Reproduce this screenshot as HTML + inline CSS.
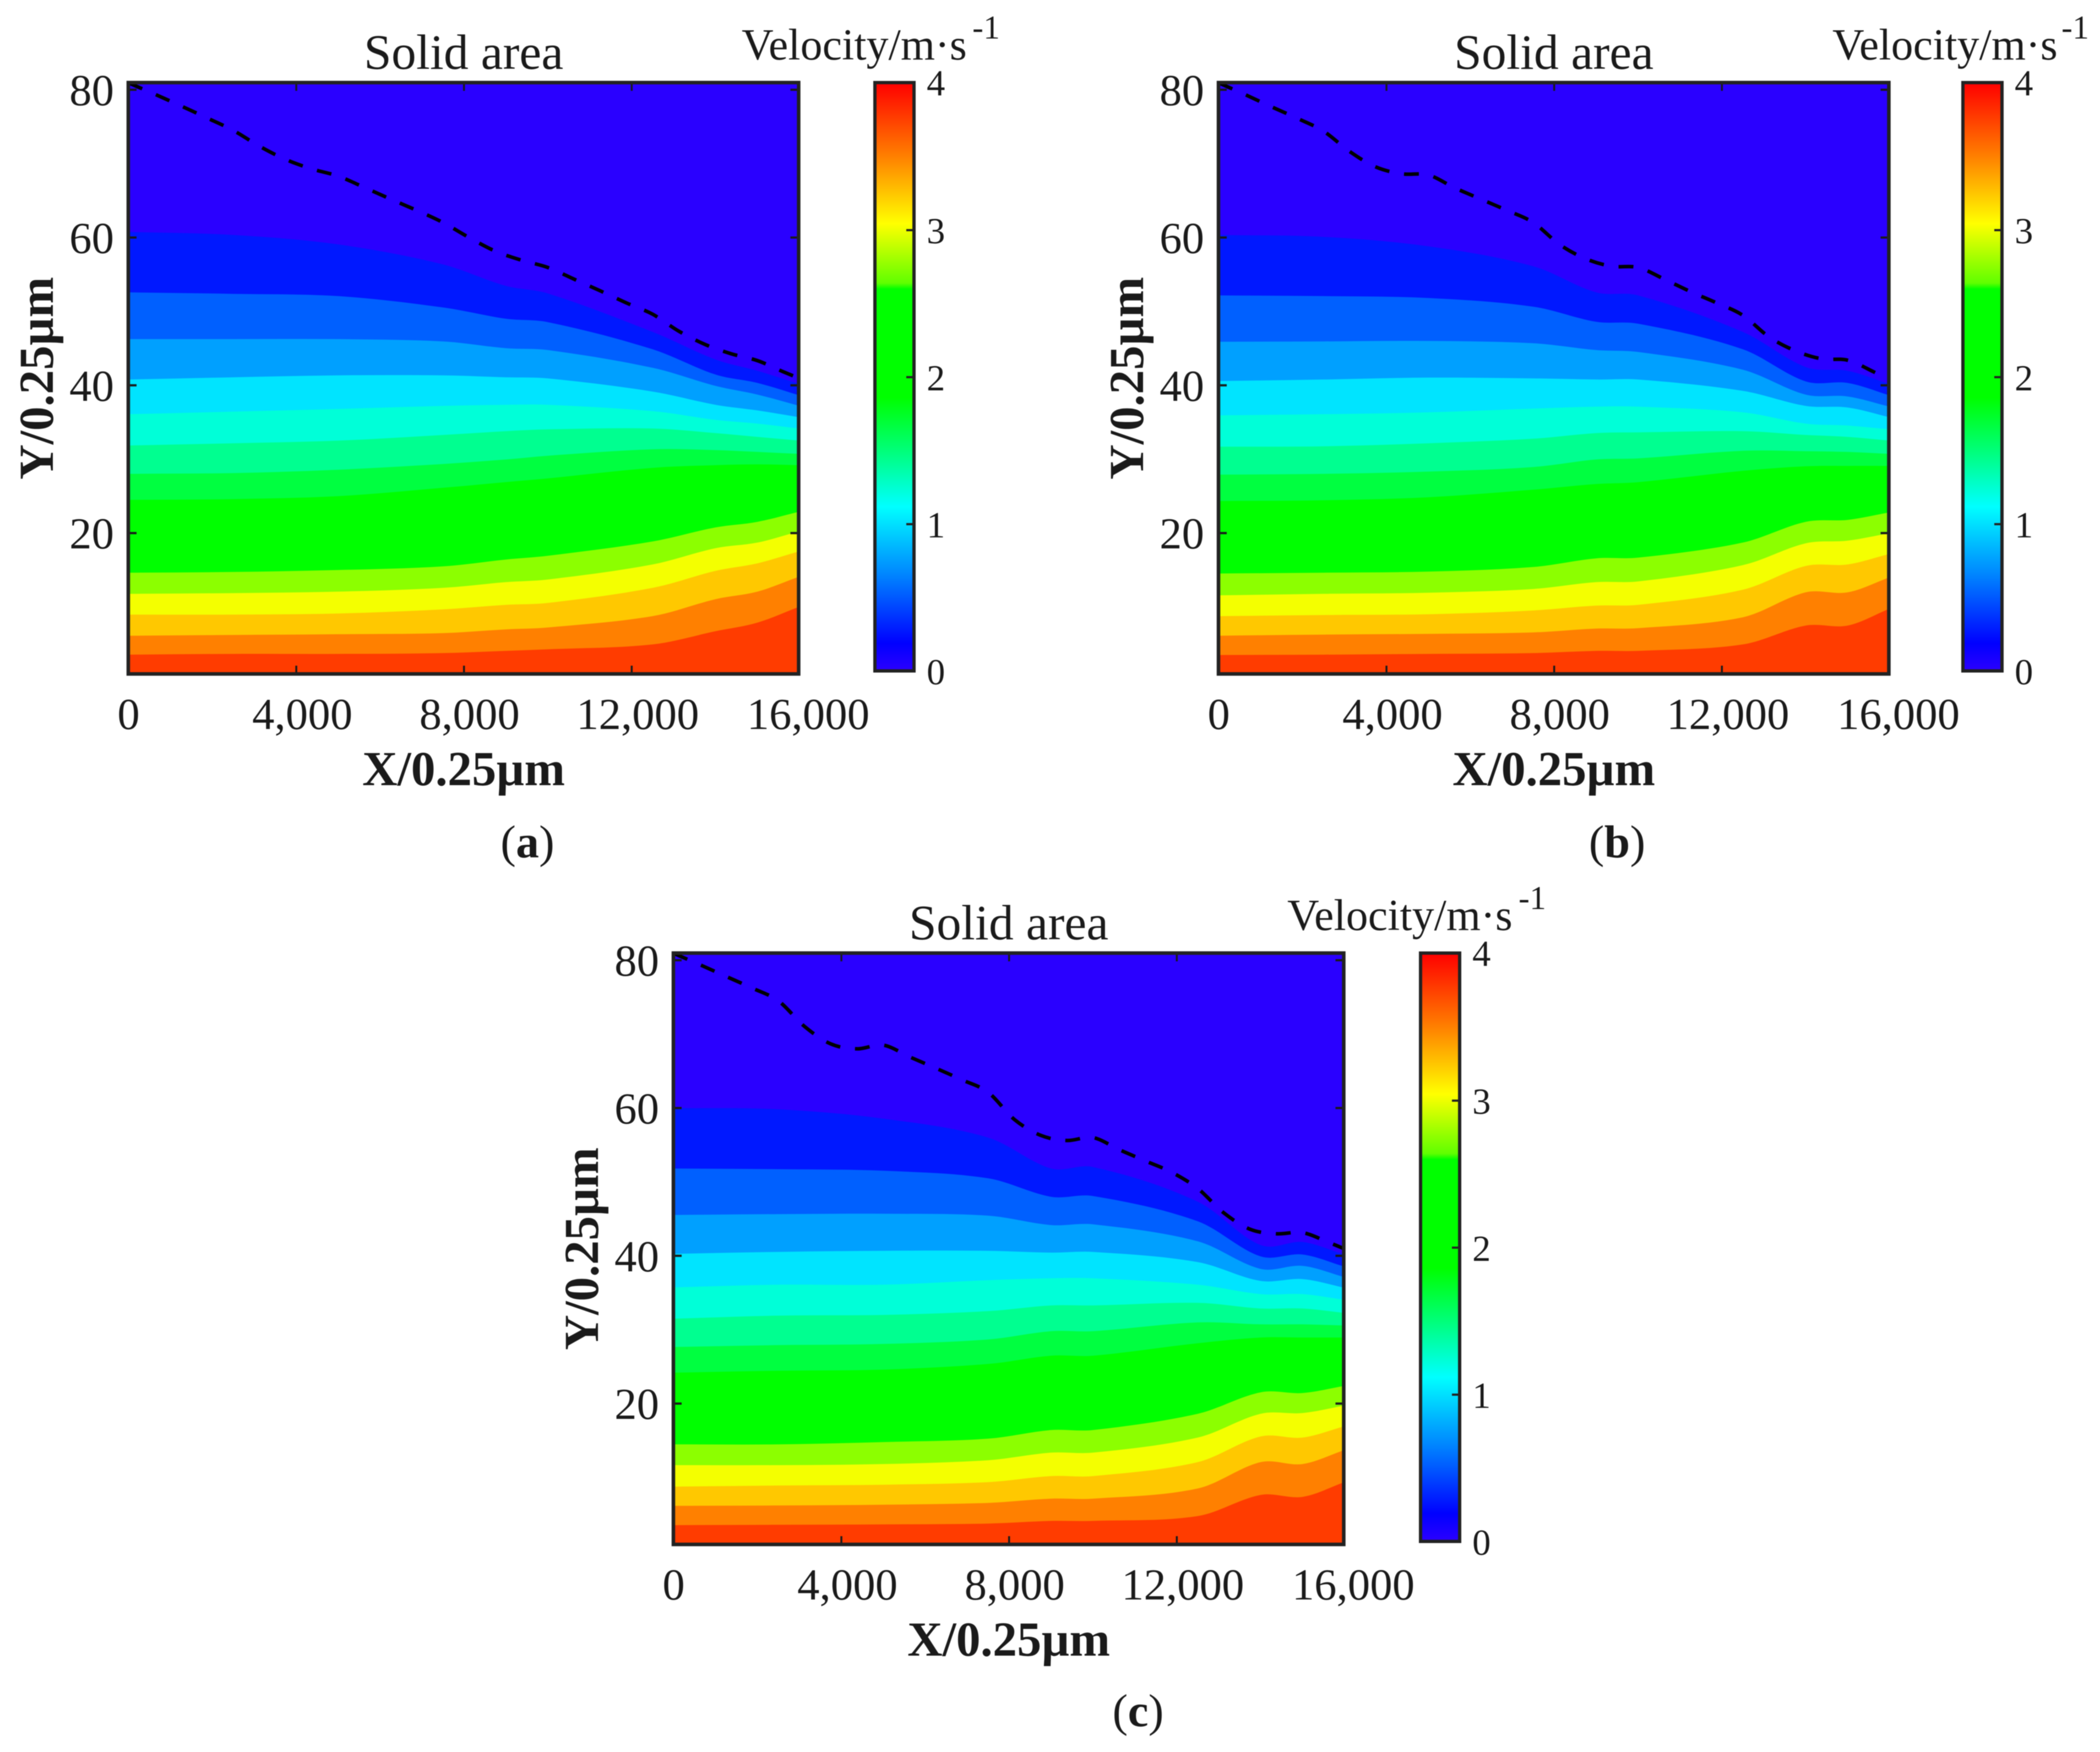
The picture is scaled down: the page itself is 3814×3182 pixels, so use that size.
<!DOCTYPE html>
<html lang="en">
<head>
<meta charset="utf-8">
<title>Velocity contour panels</title>
<style>
html,body{margin:0;padding:0;background:#fff;}
body{width:3814px;height:3182px;overflow:hidden;}
svg{display:block;filter:blur(0.9px);}
text{font-family:"Liberation Serif","Times New Roman",serif;fill:#1a1a1a;}
.tick{font-size:81px;}
.cbt{font-size:67px;}
.ttl{font-size:90px;}
.vel{font-size:80px;}
.sup{font-size:60px;}
.ax{font-size:88.5px;font-weight:bold;}
.cap{font-size:84px;}
.cap tspan{font-weight:bold;}
</style>
</head>
<body>
<svg id="figure" xmlns="http://www.w3.org/2000/svg" width="3814" height="3182" viewBox="0 0 3814 3182">
  <defs id="figure-defs"></defs>
  <rect width="3814" height="3182" fill="#fff"/>

  <g id="panel-a">
    <text class="ttl" x="842" y="125" text-anchor="middle">Solid area</text>
    <text class="vel" x="1347" y="108">Velocity/m·s</text>
    <text class="sup" x="1766" y="70">-1</text>
    <text class="ax" x="842" y="1426" text-anchor="middle">X/0.25µm</text>
    <text class="ax" transform="translate(96 687) rotate(-90)" text-anchor="middle">Y/0.25µm</text>
  </g>

  <g id="panel-b">
    <text class="ttl" x="2822" y="125" text-anchor="middle">Solid area</text>
    <text class="vel" x="3328" y="108">Velocity/m·s</text>
    <text class="sup" x="3744" y="70">-1</text>
    <text class="ax" x="2822" y="1426" text-anchor="middle">X/0.25µm</text>
    <text class="ax" transform="translate(2076 687) rotate(-90)" text-anchor="middle">Y/0.25µm</text>
  </g>

  <g id="panel-c">
    <text class="ttl" x="1832" y="1706" text-anchor="middle">Solid area</text>
    <text class="vel" x="2338" y="1689">Velocity/m·s</text>
    <text class="sup" x="2758" y="1651">-1</text>
    <text class="ax" x="1832" y="3007" text-anchor="middle">X/0.25µm</text>
    <text class="ax" transform="translate(1086 2268) rotate(-90)" text-anchor="middle">Y/0.25µm</text>
  </g>

  <text class="cap" x="958" y="1557" text-anchor="middle">(<tspan>a</tspan>)</text>
  <text class="cap" x="2937" y="1557" text-anchor="middle">(<tspan>b</tspan>)</text>
  <text class="cap" x="2067" y="3135" text-anchor="middle">(<tspan>c</tspan>)</text>
</svg>

<script>
// ---- chart data (axis units) ----
const contourX = [0, 2500, 5000, 7500, 9000, 10000, 12500, 14000, 15000, 16000];

const panelABoundaries = [
  [60.75,60.35,59.07,56.36,53.45,52.43,47.22,43.49,41.96,40.17],
  [52.58,52.38,52.07,50.54,49.01,48.55,44.87,41.45,40.32,38.64],
  [46.25,46.25,46.25,45.94,45.02,44.77,42.37,39.92,38.74,37.21],
  [40.78,41.09,41.35,41.35,41.09,40.94,39.15,37.36,36.60,35.68],
  [36.09,36.44,36.80,37.21,37.36,37.36,36.50,35.32,34.81,34.14],
  [31.85,32.15,32.51,33.28,33.79,34.04,34.15,33.53,33.02,32.51],
  [28.02,28.12,28.58,29.35,29.96,30.47,31.34,31.23,30.98,30.72],
  [24.49,24.60,25.00,26.13,26.90,27.40,28.83,29.19,29.30,29.19],
  [14.64,14.74,15.00,15.50,16.42,16.93,18.87,20.77,21.53,22.91],
  [11.78,11.88,12.08,12.59,13.36,13.72,15.76,17.96,18.72,20.25],
  [8.97,8.97,9.12,9.68,10.29,10.55,12.59,14.89,15.91,17.55],
  [6.11,6.21,6.31,6.46,6.97,7.23,8.76,11.06,12.08,14.12],
  [3.55,3.65,3.65,3.76,4.06,4.27,4.93,6.72,7.89,10.04]
];

const panelBBoundaries = [
  [60.35,60.09,58.81,56.11,52.58,52.17,47.22,42.47,41.96,40.17],
  [52.17,52.07,51.82,50.64,48.60,48.34,44.87,40.53,40.32,38.64],
  [45.89,45.94,46.00,45.69,44.77,44.51,42.11,38.74,38.49,37.11],
  [40.58,40.78,41.04,40.94,40.78,40.78,39.25,37.21,37.00,35.68],
  [35.93,36.09,36.34,36.85,37.11,37.11,36.34,34.81,34.55,34.04],
  [31.69,31.74,32.15,32.77,33.53,33.63,33.79,33.28,33.02,32.51],
  [27.91,28.02,28.32,28.94,29.96,30.11,31.13,31.08,30.98,30.72],
  [24.34,24.44,24.85,25.87,26.64,26.89,28.43,29.04,29.09,29.09],
  [14.53,14.64,14.79,15.41,16.58,16.68,18.72,21.53,21.79,22.81],
  [11.57,11.78,11.93,12.44,13.36,13.46,15.66,18.62,18.98,20.00],
  [8.76,8.91,9.02,9.53,10.19,10.29,12.34,15.55,15.76,17.19],
  [6.11,6.26,6.36,6.56,7.08,7.13,8.61,11.98,11.98,14.02],
  [3.50,3.55,3.65,3.76,4.06,4.06,4.93,7.49,7.49,9.78]
];

const panelCBoundaries = [
  [59.99,59.83,58.56,56.00,51.82,52.02,47.32,41.45,41.86,40.17],
  [51.82,51.72,51.51,50.49,47.99,48.09,44.67,39.92,40.17,38.54],
  [45.53,45.64,45.69,45.43,44.16,44.26,41.96,38.23,38.64,37.11],
  [40.27,40.53,40.68,40.68,40.43,40.53,39.15,36.60,36.85,35.68],
  [35.73,36.09,36.09,36.70,36.96,36.96,36.09,34.81,34.81,34.04],
  [31.49,31.90,32.00,32.51,33.28,33.28,33.63,32.87,32.87,32.26],
  [27.66,27.91,28.07,28.68,29.80,29.80,30.98,30.72,30.72,30.57],
  [24.19,24.44,24.60,25.36,26.48,26.48,28.17,28.94,28.94,28.94],
  [14.48,14.48,14.79,15.25,16.42,16.42,18.62,21.53,21.43,22.40],
  [11.67,11.67,11.82,12.33,13.36,13.36,15.40,18.62,18.72,19.74],
  [8.76,8.91,9.02,9.37,10.19,10.19,12.08,15.55,15.40,16.93],
  [6.16,6.21,6.31,6.56,7.13,7.13,8.51,12.08,11.82,13.72],
  [3.55,3.60,3.65,3.76,4.12,4.12,4.78,7.64,7.38,9.38]
];

const dashX = [0,625,1250,1875,2500,3125,3750,4375,5000,5625,6250,6875,7500,8125,8750,9375,10000,10625,11250,11875,12500,13125,13750,14375,15000,15625,16000];
const panelADash = [80.93,79.40,77.81,76.18,74.49,72.35,70.56,69.28,68.31,66.78,65.20,63.67,62.03,59.99,58.15,56.92,55.95,54.37,52.79,51.15,49.62,47.32,45.53,44.26,43.34,41.81,40.94];
const panelBDash = [80.93,79.35,77.71,76.13,74.39,71.63,69.54,68.62,68.47,66.73,65.20,63.67,62.03,59.07,57.13,56.11,55.95,54.37,52.68,51.15,49.47,46.55,44.67,43.59,43.39,41.81,40.68];
const panelCDash = [80.93,79.40,77.81,76.23,74.49,71.02,68.67,68.01,68.52,66.93,65.40,63.82,62.13,58.46,56.31,55.60,56.00,54.37,52.84,51.31,49.11,45.79,43.59,42.98,43.13,41.81,40.94];

const bandColors = ['#2a00ff','#0018ff','#0060ff','#00a0ff','#00e4ff','#00ffd8','#00ff90','#00ff40','#00ff00','#8cff00','#f4ff00','#ffc800','#ff8000','#ff3c00'];

const xTicks = [0, 4000, 8000, 12000, 16000];
const xTickLabels = ['0', '4,000', '8,000', '12,000', '16,000'];
const yTicks = [20, 40, 60, 80];
const yTickLabels = ['20', '40', '60', '80'];
const colorbarTicks = [0, 1, 2, 3, 4];
const colorbarTickLabels = ['0', '1', '2', '3', '4'];
const colorbarStopValues = [0, 0.19, 0.64, 1.12, 1.48, 1.86, 2.6, 2.64, 3.045, 3.5, 4];
const colorbarStopColors = ['#2c00ff','#0000ff','#0080ff','#00ffff','#00ff80','#00ff00','#00ff00','#60ff00','#ffff00','#ff8000','#ff0000'];

// ---- drawing ----
const SVG_NS = 'http://www.w3.org/2000/svg';
const xNudge = { 0: 0, 4000: 11, 8000: 10, 12000: 11, 16000: 16 };

function mk(tag, attrs, parent) {
  const el = document.createElementNS(SVG_NS, tag);
  for (const k in attrs) el.setAttribute(k, attrs[k]);
  parent.appendChild(el);
  return el;
}

function smoothPath(pts) {
  let d = 'M' + pts[0][0].toFixed(1) + ' ' + pts[0][1].toFixed(1);
  for (let i = 0; i < pts.length - 1; i++) {
    const p0 = pts[Math.max(i - 1, 0)], p1 = pts[i], p2 = pts[i + 1], p3 = pts[Math.min(i + 2, pts.length - 1)];
    const dx = p2[0] - p1[0];
    const m1 = (p2[1] - p0[1]) / Math.max(p2[0] - p0[0], 1);
    const m2 = (p3[1] - p1[1]) / Math.max(p3[0] - p1[0], 1);
    d += 'C' + (p1[0] + dx / 3).toFixed(1) + ' ' + (p1[1] + m1 * dx / 3).toFixed(1) + ' ' +
         (p2[0] - dx / 3).toFixed(1) + ' ' + (p2[1] - m2 * dx / 3).toFixed(1) + ' ' +
         p2[0].toFixed(1) + ' ' + p2[1].toFixed(1);
  }
  return d;
}

function drawPanel(id, dx, dy, barDx, boundaries, dash) {
  const host = document.getElementById(id);
  const defs = document.getElementById('figure-defs');
  const xAt = v => 233.5 + dx + v * 0.07615;
  const yAt = v => 968.2 + dy - (v - 20) * 13.42;
  const left = 233 + dx, right = 1450.5 + dx, top = 150 + dy, bottom = 1224 + dy;

  const clip = mk('clipPath', { id: id + '-clip' }, defs);
  mk('rect', { x: left, y: top, width: right - left, height: bottom - top }, clip);

  const plot = mk('g', { 'clip-path': 'url(#' + id + '-clip)' }, host);
  
  

  const base = mk('rect', { x: left, y: top, width: right - left, height: bottom - top, fill: bandColors[0] }, plot);
  
  

  boundaries.forEach(function (row, i) {
    const pts = row.map((v, j) => [xAt(contourX[j]), yAt(v)]);
    const d = smoothPath(pts) + 'L' + (right + 6) + ' ' + pts[pts.length - 1][1].toFixed(1) +
      'L' + (right + 6) + ' ' + (bottom + 6) + 'L' + (left - 6) + ' ' + (bottom + 6) + 'Z';
    const band = mk('path', { d: d, fill: bandColors[i + 1] }, plot);
    
    
  });

  const dashPts = dash.map((v, j) => [xAt(dashX[j]), yAt(v)]);
  const line = mk('path', { d: smoothPath(dashPts), fill: 'none', stroke: '#000', 'stroke-width': 6.5, 'stroke-dasharray': '27 27', 'stroke-dashoffset': 0 }, plot);
  
  

  const tickColor = '#1a1a1a';
  xTicks.forEach(function (t, i) {
    const x = xAt(t);
    if (t > 0 && t < 16000) {
      const a = mk('line', { x1: x, x2: x, y1: bottom, y2: bottom - 15, stroke: tickColor, 'stroke-width': 3.5 }, host);
      
      
      const b = mk('line', { x1: x, x2: x, y1: top, y2: top + 15, stroke: tickColor, 'stroke-width': 3.5 }, host);
      
      
    }
    const lab = mk('text', { class: 'tick', x: x + xNudge[t], y: 1324 + dy, 'text-anchor': 'middle' }, host);
    lab.textContent = xTickLabels[i];
    
    
  });

  yTicks.forEach(function (t, i) {
    const y = yAt(t);
    const a = mk('line', { x1: left, x2: left + 15, y1: y, y2: y, stroke: tickColor, 'stroke-width': 4 }, host);
    
    
    const b = mk('line', { x1: right, x2: right - 15, y1: y, y2: y, stroke: tickColor, 'stroke-width': 4 }, host);
    
    
    const lab = mk('text', { class: 'tick', x: 207 + dx, y: y + 28, 'text-anchor': 'end' }, host);
    lab.textContent = yTickLabels[i];
    
    
  });

  const frame = mk('rect', { x: left, y: top, width: right - left, height: bottom - top, fill: 'none', stroke: '#222', 'stroke-width': 6.5 }, host);
  
  

  // colour bar
  const barY = v => 1219 + dy - v * 267;
  const grad = mk('linearGradient', { id: id + '-grad', gradientUnits: 'userSpaceOnUse', x1: 0, x2: 0, y1: barY(0), y2: barY(4) }, defs);
  colorbarStopValues.forEach(function (v, i) {
    mk('stop', { offset: v / 4, 'stop-color': colorbarStopColors[i] }, grad);
  });
  const barLeft = 1589 + barDx, barRight = 1660 + barDx, barTop = 150 + dy, barBottom = 1218.5 + dy;
  const bar = mk('rect', { x: barLeft, y: barTop, width: barRight - barLeft, height: barBottom - barTop, fill: 'url(#' + id + '-grad)', stroke: '#222', 'stroke-width': 6 }, host);
  
  

  colorbarTicks.forEach(function (t, i) {
    const y = barY(t);
    if (t > 0 && t < 4) {
      const a = mk('line', { x1: barRight, x2: barRight - 14, y1: y, y2: y, stroke: '#222', 'stroke-width': 4 }, host);
      
      
    }
    const lab = mk('text', { class: 'cbt', x: 1683 + barDx, y: y + (t === 4 ? 22 : 24) }, host);
    lab.textContent = colorbarTickLabels[i];
    
    
  });
}

drawPanel('panel-a', 0, 0, 0, panelABoundaries, panelADash);
drawPanel('panel-b', 1980, 0, 1976, panelBBoundaries, panelBDash);
drawPanel('panel-c', 990, 1581, 991, panelCBoundaries, panelCDash);
</script>
</body>
</html>
